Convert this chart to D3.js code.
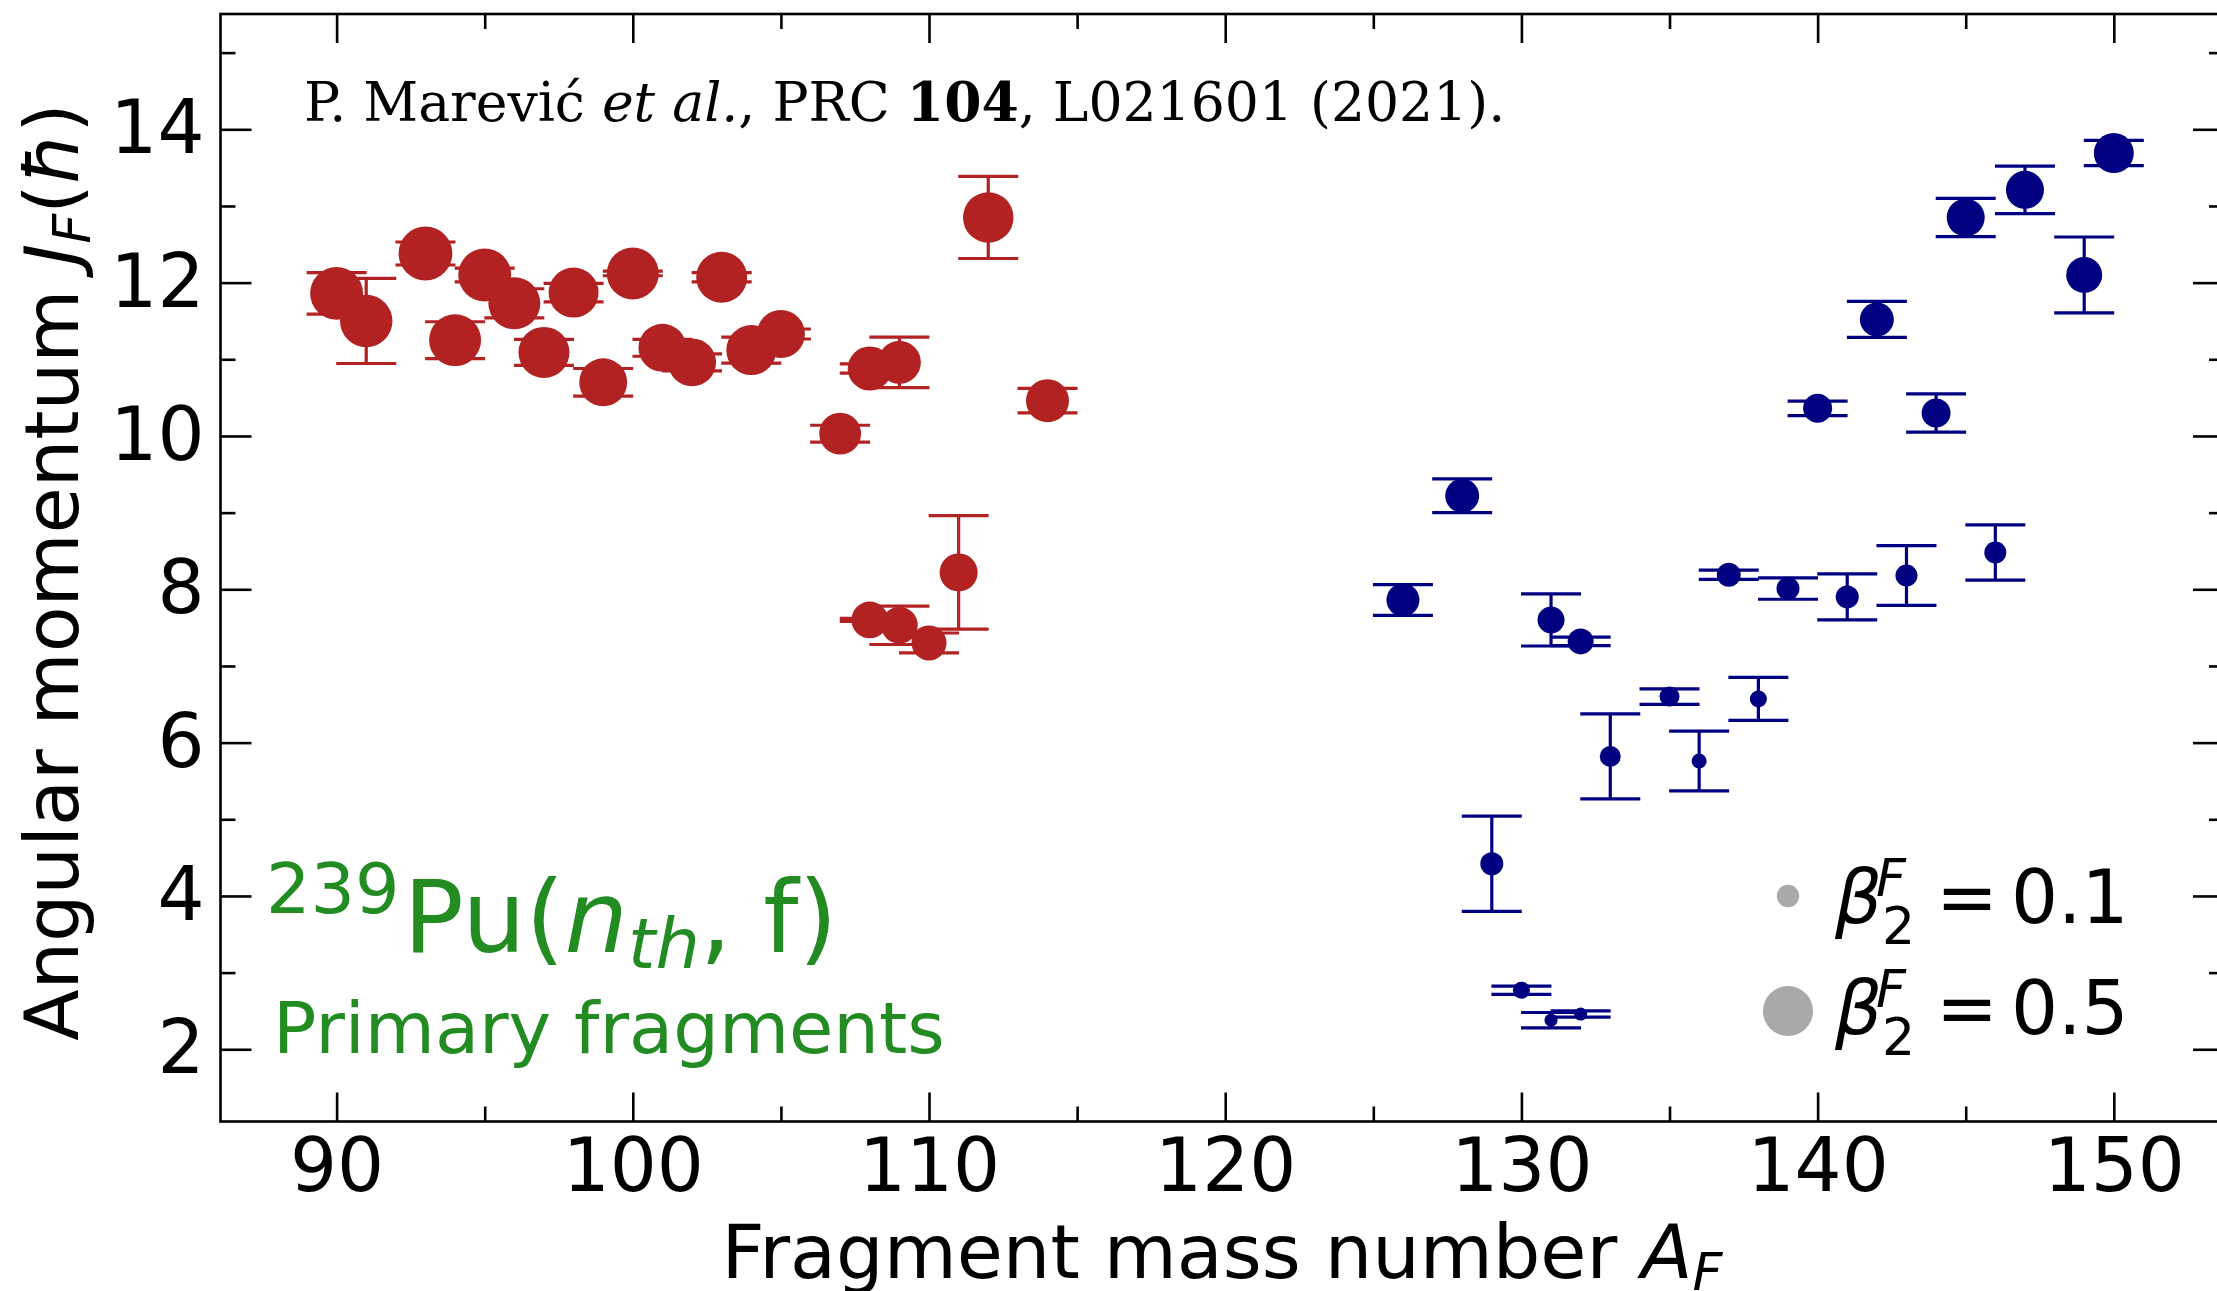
<!DOCTYPE html>
<html><head><meta charset="utf-8">
<script src="https://cdn.jsdelivr.net/npm/d3@7"></script>
<style>html,body{margin:0;padding:0;background:#fff;overflow:hidden}</style>
</head><body>
<svg id="chart" width="2217" height="1291" xmlns="http://www.w3.org/2000/svg"></svg>
<script>
// ---- data ----
const redA    = [90, 91, 93, 94, 95, 96, 97, 98, 99, 100, 101, 102, 103, 104, 105, 107, 108, 108, 109, 109, 110, 111, 112, 114];
const redJ    = [11.86, 11.50, 12.38, 11.25, 12.10, 11.73, 11.09, 11.87, 10.70, 12.12, 11.15, 10.96, 12.07, 11.12, 11.33, 10.03, 10.88, 7.60, 10.96, 7.53, 7.30, 8.22, 12.85, 10.46];
const redErr  = [0.27, 0.555, 0.15, 0.24, 0.09, 0.19, 0.17, 0.12, 0.18, 0.03, 0.11, 0.11, 0.06, 0.17, 0.065, 0.11, 0.06, 0.02, 0.33, 0.25, 0.13, 0.74, 0.535, 0.16];
const redBeta = [0.56, 0.55, 0.58, 0.54, 0.56, 0.54, 0.52, 0.50, 0.46, 0.54, 0.46, 0.46, 0.52, 0.50, 0.46, 0.35, 0.39, 0.27, 0.37, 0.27, 0.245, 0.29, 0.51, 0.37];

const blueA    = [126, 128, 129, 130, 131, 131, 132, 132, 133, 135, 136, 137, 138, 139, 140, 141, 142, 143, 144, 145, 146, 147, 149, 150];
const blueJ    = [7.86, 9.22, 4.42, 2.77, 7.60, 2.38, 7.32, 2.46, 5.82, 6.60, 5.76, 8.19, 6.57, 8.01, 10.36, 7.90, 11.52, 8.18, 10.30, 12.85, 8.48, 13.21, 12.10, 13.69];
const blueErr  = [0.20, 0.22, 0.62, 0.055, 0.34, 0.10, 0.055, 0.04, 0.555, 0.10, 0.39, 0.06, 0.28, 0.14, 0.095, 0.30, 0.235, 0.39, 0.25, 0.25, 0.36, 0.31, 0.495, 0.165];
const blueBeta = [0.218, 0.231, 0.106, 0.058, 0.146, 0.034, 0.135, 0.034, 0.088, 0.080, 0.045, 0.115, 0.058, 0.106, 0.168, 0.106, 0.231, 0.097, 0.168, 0.289, 0.097, 0.289, 0.259, 0.320];

const xTicksMajor = [90, 100, 110, 120, 130, 140, 150];
const xTicksMinor = [95, 105, 115, 125, 135, 145];
const yTicksMajor = [2, 4, 6, 8, 10, 12, 14];
const yTicksMinor = [3, 5, 7, 9, 11, 13, 15];
const legendBeta   = [0.1, 0.5];
const legendLabels = ["0.1", "0.5"];

// ---- layout ----
const L = 220.5, R = 2224, T = 14, B = 1121.5;
const svg = d3.select("#chart");
const x = d3.scaleLinear().domain([86.08, 153.72]).range([L, R]);
const y = d3.scaleLinear().domain([1.058, 15.504]).range([B, T]);
const rad = d3.scaleSqrt().domain([0, 0.5]).range([0, 25]);
const SANS = "'DejaVu Sans', sans-serif";
const FS = 74;

svg.append("rect").attr("width", 2217).attr("height", 1291).attr("fill", "#fff");

// ---- axes with inward ticks ----
function styleAxis(g) {
  g.select(".domain").remove();
  g.selectAll(".tick line").attr("stroke", "#000").attr("stroke-width", 2.6);
  g.selectAll(".tick text").attr("font-family", SANS).attr("font-size", FS).attr("fill", "#000");
}
svg.append("g").attr("transform", `translate(0,${B})`)
  .call(d3.axisBottom(x).tickValues(xTicksMajor).tickSize(-29).tickPadding(17).tickFormat(d3.format("d"))).call(styleAxis);
svg.append("g").attr("transform", `translate(0,${B})`)
  .call(d3.axisBottom(x).tickValues(xTicksMinor).tickSize(-15).tickFormat("")).call(styleAxis);
svg.append("g").attr("transform", `translate(0,${T})`)
  .call(d3.axisTop(x).tickValues(xTicksMajor).tickSize(-29).tickFormat("")).call(styleAxis);
svg.append("g").attr("transform", `translate(0,${T})`)
  .call(d3.axisTop(x).tickValues(xTicksMinor).tickSize(-15).tickFormat("")).call(styleAxis);
svg.append("g").attr("transform", `translate(${L},0)`)
  .call(d3.axisLeft(y).tickValues(yTicksMajor).tickSize(-31).tickPadding(16).tickFormat(d3.format("d"))).call(styleAxis);
svg.append("g").attr("transform", `translate(${L},0)`)
  .call(d3.axisLeft(y).tickValues(yTicksMinor).tickSize(-15).tickFormat("")).call(styleAxis);
svg.append("g").attr("transform", `translate(${R},0)`)
  .call(d3.axisRight(y).tickValues(yTicksMajor).tickSize(-31).tickFormat("")).call(styleAxis);
svg.append("g").attr("transform", `translate(${R},0)`)
  .call(d3.axisRight(y).tickValues(yTicksMinor).tickSize(-15).tickFormat("")).call(styleAxis);

svg.append("rect").attr("x", L).attr("y", T).attr("width", R - L).attr("height", B - T)
  .attr("fill", "none").attr("stroke", "#000").attr("stroke-width", 2.6);

// ---- series with error bars ----
function drawSeries(A, J, E, Bt, color) {
  const g = svg.append("g");
  const pts = g.selectAll("g.pt").data(d3.range(A.length)).join("g").attr("class", "pt");
  pts.each(function (i) {
    const p = d3.select(this);
    const cx = x(A[i]);
    const y0 = y(J[i] - E[i]), y1 = y(J[i] + E[i]);
    const capW = 30;
    p.append("line").attr("x1", cx).attr("x2", cx).attr("y1", y0).attr("y2", y1)
      .attr("stroke", color).attr("stroke-width", 3.2);
    [y0, y1].forEach(yy => p.append("line").attr("x1", cx - capW).attr("x2", cx + capW)
      .attr("y1", yy).attr("y2", yy).attr("stroke", color).attr("stroke-width", 3.2));
    p.append("circle").attr("cx", cx).attr("cy", y(J[i])).attr("r", rad(Bt[i])).attr("fill", color);
  });
}
drawSeries(redA, redJ, redErr, redBeta, "#b22222");
drawSeries(blueA, blueJ, blueErr, blueBeta, "#000080");

// ---- axis titles ----
const xt = svg.append("text").attr("x", 1222).attr("y", 1278).attr("text-anchor", "middle")
  .attr("font-family", SANS).attr("font-size", 75).attr("fill", "#000");
xt.append("tspan").text("Fragment mass number ");
xt.append("tspan").attr("font-style", "italic").text("A");
xt.append("tspan").attr("font-style", "italic").attr("font-size", 52).attr("dy", 12).text("F");

const yt = svg.append("text").attr("transform", "translate(78,572) rotate(-90)").attr("text-anchor", "middle")
  .attr("font-family", SANS).attr("font-size", 75).attr("fill", "#000");
yt.append("tspan").text("Angular momentum ");
yt.append("tspan").attr("font-style", "italic").text("J");
yt.append("tspan").attr("font-style", "italic").attr("font-size", 52).attr("dy", 12).text("F");
yt.append("tspan").attr("dy", -12).text("(");
yt.append("tspan").attr("font-style", "italic").text("ħ");
yt.append("tspan").text(")");

// ---- reference annotation ----
const an = svg.append("text").attr("x", 304).attr("y", 121)
  .attr("font-family", "'DejaVu Serif', serif").attr("font-size", 53.6).attr("fill", "#000");
an.append("tspan").text("P. Marević ");
an.append("tspan").attr("font-style", "italic").text("et al.");
an.append("tspan").text(", PRC ");
an.append("tspan").attr("font-weight", "bold").text("104");
an.append("tspan").text(", L021601 (2021).");

// ---- reaction label ----
const GREEN = "#228b22";
const pu = svg.append("text").attr("x", 266).attr("y", 952)
  .attr("font-family", SANS).attr("font-size", 100).attr("fill", GREEN);
pu.append("tspan").attr("font-size", 70).attr("dy", -39).text("239");
pu.append("tspan").attr("dy", 39).attr("dx", 4).text("Pu(");
pu.append("tspan").attr("font-style", "italic").text("n");
pu.append("tspan").attr("font-style", "italic").attr("font-size", 70).attr("dy", 16).text("th");
pu.append("tspan").attr("dy", -16).text(", f)");

svg.append("text").attr("x", 273).attr("y", 1053)
  .attr("font-family", SANS).attr("font-size", 72).attr("fill", GREEN).text("Primary fragments");

// ---- size legend (one text element per entry, stacked sup/sub via tspans) ----
const legBase = [923, 1034];
const legCy = [896, 1011];
legendBeta.forEach((b, i) => {
  svg.append("circle").attr("cx", 1788).attr("cy", legCy[i]).attr("r", rad(b)).attr("fill", "#a9a9a9");
  const bl = legBase[i];
  const t = svg.append("text").attr("x", 1835).attr("y", bl)
    .attr("font-family", SANS).attr("font-size", FS).attr("fill", "#000");
  t.append("tspan").attr("font-style", "italic").text("β");
  t.append("tspan").attr("x", 1876).attr("dy", -27).attr("font-size", 52).attr("font-style", "italic").text("F");
  t.append("tspan").attr("x", 1882).attr("dy", 48).attr("font-size", 52).text("2");
  t.append("tspan").attr("x", 1936).attr("dy", -21).text("=");
  t.append("tspan").attr("x", 2011).text(legendLabels[i]);
});
</script>
</body></html>
